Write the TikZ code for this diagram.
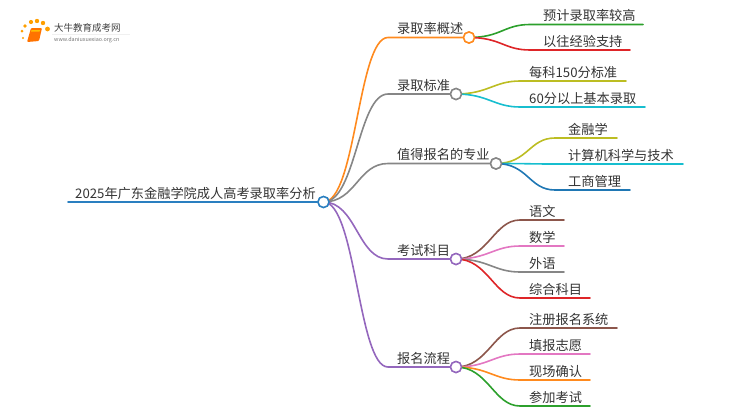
\documentclass[tikz,border=0pt]{standalone}
\usepackage{fontspec}
\setmainfont{Noto Sans CJK SC}
\usetikzlibrary{calc}
\definecolor{cblue}{HTML}{2A7FC0}
\definecolor{corange}{HTML}{FF8A1E}
\definecolor{cgrey}{HTML}{868686}
\definecolor{cpurple}{HTML}{9467BD}
\definecolor{cgreen}{HTML}{2CA02C}
\definecolor{cred}{HTML}{DE2528}
\definecolor{colive}{HTML}{BCBD22}
\definecolor{ccyan}{HTML}{17BECF}
\definecolor{cdblue}{HTML}{1F77B4}
\definecolor{cbrown}{HTML}{8C564B}
\definecolor{cpink}{HTML}{E377C2}
\definecolor{ctext}{HTML}{333333}
\tikzset{
  hub/.style={circle,draw=#1,fill=white,line width=1.5pt,minimum size=11pt,inner sep=0pt},
  lab/.style={anchor=base west,inner sep=0pt,text=ctext,font=\fontsize{13.2}{13.2}\selectfont},
  branch/.style={line width=1.6pt,#1,line cap=round},
}
\newcommand{\leafitem}[8]{%
  \coordinate (#1s) at (#3,#5);
  \coordinate (#1e) at (#4,#5);
  \node[lab] (#1) at (#6,#5-3.6) {#8};
  \draw[branch=#7] (#2.center) .. controls ($(#2.center)+(32,0)$) and ($(#1s)+(-26,0)$) .. (#1s) -- (#1e);
}
\begin{document}
\begin{tikzpicture}[x=1pt,y=-1pt]
\useasboundingbox (0,0) rectangle (750,410);
% logo
\fill[black!6] (52,33.5) rectangle (130,34);
\foreach \a/\b/\r in {23/38/1.1,22/31/1.5,25/26/1.9,31/22/2.1,37/21/2.2,43/23/2.2,47.5/29/2.4}
  \fill[orange!75!yellow] (\a,\b) circle (\r);
\fill[orange!90!red,rounded corners=1pt] (31,28) -- (42,28) -- (39,41) -- (27,42) -- cycle;
\fill[orange!50!yellow] (31.5,30) -- (40,30) -- (39.5,31.5) -- (31,31.5) -- cycle;
\node[anchor=base west,inner sep=0pt,text=black!75,font=\fontsize{9.5}{9.5}\selectfont] (logoa) at (54,31) {大牛教育成考网};
\node[anchor=base west,inner sep=0pt,text=black!55,font=\fontsize{5.4}{5.4}\selectfont] (logob) at (54,41) {www.daniuxuexiao.org.cn};
% hubs (placed first so that connectors can refer to them; redrawn on top below)
\node[hub=cblue] (root) at (323.5,202) {};
\node[hub=corange] (n1) at (469,37.5) {};
\node[hub=cgrey] (n2) at (456,94) {};
\node[hub=cgrey] (n3) at (496,163.5) {};
\node[hub=cpurple] (n4) at (456,259) {};
\node[hub=cpurple] (n5) at (456,367) {};
\coordinate (rs) at (68,202);
\draw[branch=cblue] (rs) -- (root);
\node[lab] (rootlab) at (75,198) {2025年广东金融学院成人高考录取率分析};
% level one
\foreach \n/\c/\t in {n1/corange/录取率概述,n2/cgrey/录取标准,n3/cgrey/值得报名的专业,n4/cpurple/考试科目,n5/cpurple/报名流程}{
  \coordinate (\n s) at (388,0 |- \n.center);
  \draw[branch=\c] (root.center) .. controls (356,202) and (358,0 |- \n.center) .. (\n s) -- (\n.center);
  \node[lab] (\n lab) at ($(397,0 |- \n.center)+(0,-3.6)$) {\t};
}
% leaves
\leafitem{a}{n1}{530}{643}{24.5}{543}{cgreen}{预计录取率较高}
\leafitem{b}{n1}{530}{630}{50}{543}{cred}{以往经验支持}
\leafitem{c}{n2}{520}{626}{81}{529}{colive}{每科150分标准}
\leafitem{d}{n2}{520}{645}{107}{529}{ccyan}{60分以上基本录取}
\leafitem{e}{n3}{555}{617}{138}{568}{colive}{金融学}
\leafitem{f}{n3}{555}{683}{164}{568}{ccyan}{计算机科学与技术}
\leafitem{g}{n3}{555}{630}{190}{568}{cdblue}{工商管理}
\leafitem{h}{n4}{520}{564}{220}{529}{cbrown}{语文}
\leafitem{i}{n4}{520}{564}{246}{529}{cpink}{数学}
\leafitem{j}{n4}{520}{564}{272}{529}{cgrey}{外语}
\leafitem{k}{n4}{520}{590}{298}{529}{cred}{综合科目}
\leafitem{l}{n5}{520}{617}{328}{529}{cbrown}{注册报名系统}
\leafitem{m}{n5}{520}{590}{354}{529}{cpink}{填报志愿}
\leafitem{o}{n5}{520}{590}{380}{529}{corange}{现场确认}
\leafitem{p}{n5}{520}{590}{406}{529}{cgreen}{参加考试}
% hubs on top
\foreach \n/\c in {root/cblue,n1/corange,n2/cgrey,n3/cgrey,n4/cpurple,n5/cpurple}
  \node[hub=\c] at (\n.center) {};
\end{tikzpicture}
\end{document}
